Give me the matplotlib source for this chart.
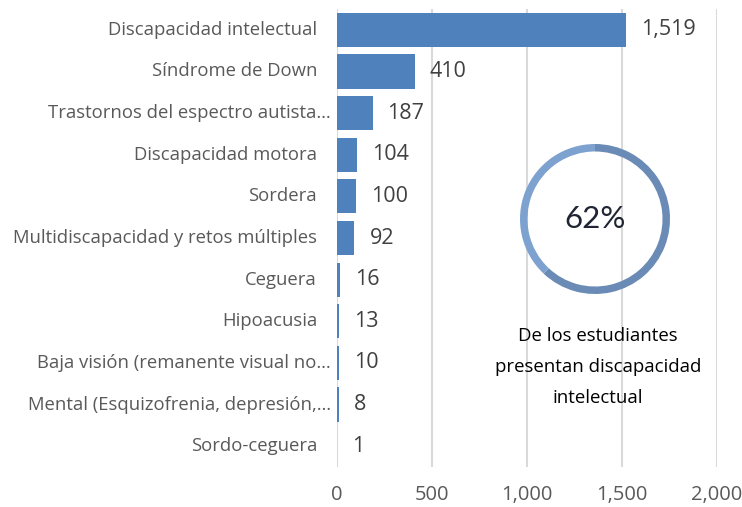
import matplotlib
matplotlib.use("Agg")
import matplotlib.pyplot as plt

plt.rcParams['font.family'] = ['Open Sans', 'DejaVu Sans']

categories = [
    "Discapacidad intelectual",
    "Síndrome de Down",
    "Trastornos del espectro autista…",
    "Discapacidad motora",
    "Sordera",
    "Multidiscapacidad y retos múltiples",
    "Ceguera",
    "Hipoacusia",
    "Baja visión (remanente visual no…",
    "Mental (Esquizofrenia, depresión,…",
    "Sordo-ceguera",
]
values = [1519, 410, 187, 104, 100, 92, 16, 13, 10, 8, 1]
value_labels = ["1,519", "410", "187", "104", "100", "92", "16", "13", "10", "8", "1"]
xticks = [0, 500, 1000, 1500, 2000]
xtick_labels = ["0", "500", "1,000", "1,500", "2,000"]
pct = 62
pct_label = "62%"
caption = "De los estudiantes\npresentan discapacidad\nintelectual"

bar_color = "#4f81bd"

fig = plt.figure(figsize=(7.42, 5.07), dpi=100)
ax = fig.add_axes([337/742, 1-467/507, 380/742, 458/507])

y = list(range(len(categories)))
ax.barh(y, values, height=0.82, color=bar_color, zorder=3)
ax.set_ylim(len(categories)-0.5, -0.5)
ax.set_xlim(0, 2000)
ax.set_xticks(xticks)
ax.set_xticklabels(xtick_labels, fontsize=14.5, color="#595959")
ax.tick_params(axis='x', length=0, pad=13)
ax.set_yticks([])
ax.grid(axis='x', color="#d9d9d9", linewidth=1.5, zorder=0)
for s in ax.spines.values():
    s.set_visible(False)

for i, (v, lab) in enumerate(zip(values, value_labels)):
    ax.annotate(lab, (v, i), xytext=(15, 0), textcoords='offset pixels',
                va='center', ha='left', fontsize=15.5, color="#404040")

for i, cat in enumerate(categories):
    off = 14 if cat.endswith("…") else 0
    ax.annotate(cat, (0, i), xycoords=('axes fraction', 'data'),
                xytext=(-20 + off, 0), textcoords='offset pixels',
                ha='right', va='center', fontsize=13.3, color="#595959")

# ring
R = 75
rax = fig.add_axes([(595-R)/742, 1-(219+R)/507, 2*R/742, 2*R/507])
rax.pie([pct, 100-pct], colors=["#6a8bb5", "#7ea2d0"], startangle=90, counterclock=False,
        wedgeprops=dict(width=0.1, edgecolor='none'), radius=1.0)
rax.set_xlim(-1, 1)
rax.set_ylim(-1, 1)
rax.set_aspect('equal')
rax.text(0, 0, pct_label, ha='center', va='center', fontsize=22.5, color="#1f2533",
         family=['Lato', 'DejaVu Sans'])
rax.axis('off')

fig.text(598/742, 1-367/507, caption, ha='center', va='center', fontsize=13.4,
         color="#000000", linespacing=1.9)

fig.savefig("out.png", dpi=100)
